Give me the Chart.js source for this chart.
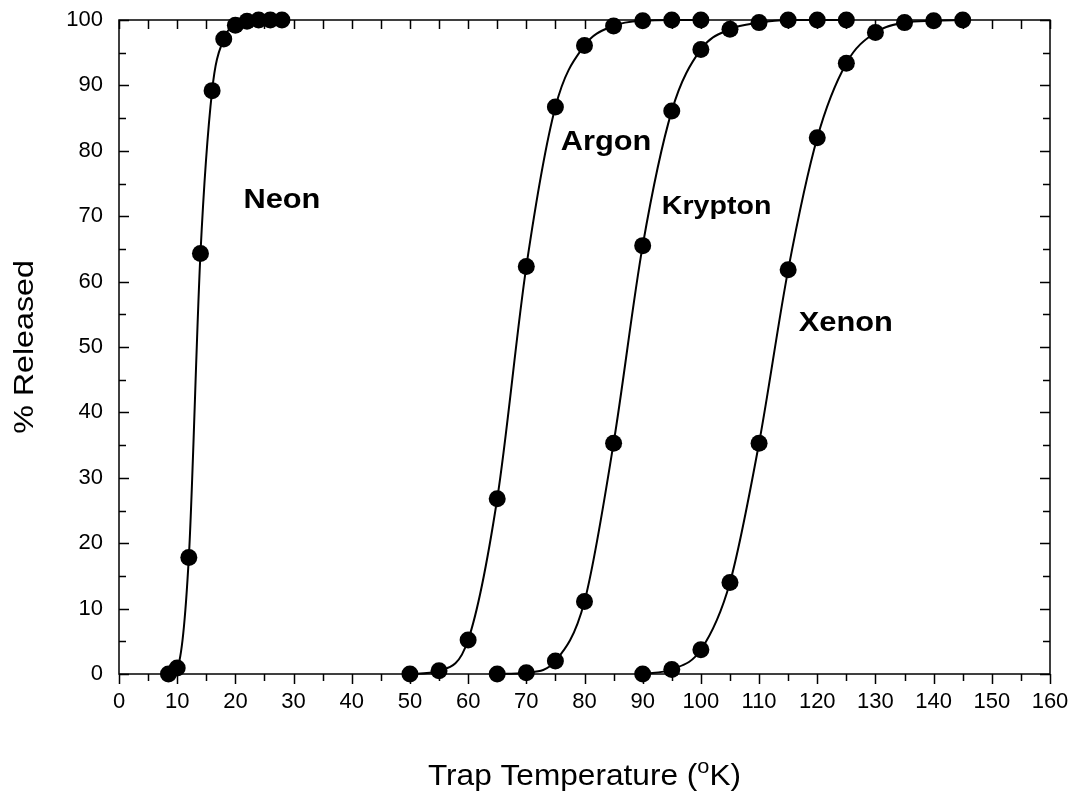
<!DOCTYPE html>
<html>
<head>
<meta charset="utf-8">
<title>Trap Temperature</title>
<script src="https://cdn.jsdelivr.net/npm/chart.js@4/dist/chart.umd.min.js"></script>
<style>
  html, body { margin: 0; padding: 0; background: #fff; }
  #wrap { width: 1081px; height: 794px; }
</style>
</head>
<body>
<div id="wrap"><canvas id="grafico"></canvas></div>
<script>
// % released versus trap temperature for each gas
const neonTemp = [8.5, 10, 12, 14, 16, 18, 20, 22, 24, 26, 28];
const neonPct = [0, 0.9, 17.8, 64.3, 89.2, 97.1, 99.2, 99.8, 100, 100, 100];

const argonTemp = [50, 55, 60, 65, 70, 75, 80, 85, 90, 95, 100];
const argonPct = [0, 0.5, 5.2, 26.8, 62.3, 86.7, 96.1, 99.1, 99.9, 100, 100];

const kryptonTemp = [65, 70, 75, 80, 85, 90, 95, 100, 105, 110, 115, 120, 125];
const kryptonPct = [0, 0.2, 2.0, 11.1, 35.3, 65.5, 86.1, 95.5, 98.6, 99.6, 100, 100, 100];

const xenonTemp = [90, 95, 100, 105, 110, 115, 120, 125, 130, 135, 140, 145];
const xenonPct = [0, 0.7, 3.7, 14.0, 35.3, 61.8, 82.0, 93.4, 98.1, 99.6, 99.9, 100];

const gasNames = ['Neon', 'Argon', 'Krypton', 'Xenon'];

const FONT = '"Liberation Sans", Arial, Helvetica, sans-serif';

function serie(temps, pcts) {
    return temps.map((t, i) => ({ x: t, y: pcts[i] }));
}

function dataset(label, temps, pcts) {
    return {
        label: label,
        data: serie(temps, pcts),
        borderColor: '#000',
        backgroundColor: '#000',
        borderWidth: 2,
        cubicInterpolationMode: 'monotone',
        pointRadius: 8.5,
        pointHoverRadius: 8.5,
        pointBorderWidth: 0,
        pointBackgroundColor: '#000',
        clip: false
    };
}

// text drawn a little wider than the font's natural width
function textoLargo(ctx, txt, x, y, stretch) {
    ctx.save();
    ctx.translate(x, y);
    ctx.scale(stretch, 1);
    ctx.fillText(txt, 0, 0);
    ctx.restore();
}

// frame, tick marks, axis titles and gas names
const moldura = {
    id: 'moldura',
    afterDraw(chart) {
        const ctx = chart.ctx;
        const a = chart.chartArea;
        const xs = chart.scales.x;
        const ys = chart.scales.y;
        ctx.save();
        ctx.strokeStyle = '#000';
        ctx.lineWidth = 1.5;
        ctx.strokeRect(a.left, a.top, a.right - a.left, a.bottom - a.top);

        ctx.beginPath();
        for (let v = 0; v <= 160; v += 5) {
            const px = Math.round(xs.getPixelForValue(v)) + 0.5;
            const len = v % 10 === 0 ? 10 : 7;
            ctx.moveTo(px, a.bottom); ctx.lineTo(px, a.bottom + len);
            ctx.moveTo(px, a.top); ctx.lineTo(px, a.top + 9);
        }
        for (let v = 0; v <= 100; v += 5) {
            const py = Math.round(ys.getPixelForValue(v)) + 0.5;
            const len = v % 10 === 0 ? 10 : 7;
            ctx.moveTo(a.left, py); ctx.lineTo(a.left + len, py);
            ctx.moveTo(a.right, py); ctx.lineTo(a.right - len, py);
        }
        ctx.stroke();

        ctx.fillStyle = '#000';
        // y title
        ctx.save();
        ctx.translate(25, (a.top + a.bottom) / 2);
        ctx.rotate(-Math.PI / 2);
        ctx.font = '28px ' + FONT;
        ctx.textAlign = 'center';
        ctx.textBaseline = 'middle';
        textoLargo(ctx, '% Released', 0, 0, 1.15);
        ctx.restore();

        // x title with superscript o
        const st = 1.09;
        const partA = 'Trap Temperature (';
        const partB = 'o';
        const partC = 'K)';
        ctx.textBaseline = 'alphabetic';
        ctx.textAlign = 'left';
        ctx.font = '29px ' + FONT;
        const wA = ctx.measureText(partA).width * st;
        const wC = ctx.measureText(partC).width * st;
        ctx.font = '20px ' + FONT;
        const wB = ctx.measureText(partB).width * st;
        const total = wA + wB + wC;
        const x0 = (a.left + a.right) / 2 - total / 2;
        const base = 785;
        ctx.font = '29px ' + FONT;
        textoLargo(ctx, partA, x0, base, st);
        ctx.font = '20px ' + FONT;
        textoLargo(ctx, partB, x0 + wA, base - 12, st);
        ctx.font = '29px ' + FONT;
        textoLargo(ctx, partC, x0 + wA + wB, base, st);

        // gas names, anchored in data units
        const nomes = [
            { t: gasNames[0], x: 28.0, y: 72.5, size: 28 },
            { t: gasNames[1], x: 83.7, y: 81.3, size: 28 },
            { t: gasNames[2], x: 102.7, y: 71.4, size: 26 },
            { t: gasNames[3], x: 124.9, y: 53.7, size: 28 }
        ];
        ctx.textAlign = 'center';
        ctx.textBaseline = 'middle';
        nomes.forEach(n => {
            ctx.font = 'bold ' + n.size + 'px ' + FONT;
            textoLargo(ctx, n.t, xs.getPixelForValue(n.x), ys.getPixelForValue(n.y), 1.1);
        });
        ctx.restore();
    }
};

const ctx = document.getElementById('grafico').getContext('2d');

new Chart(ctx, {
    type: 'line',
    data: {
        datasets: [
            dataset(gasNames[0], neonTemp, neonPct),
            dataset(gasNames[1], argonTemp, argonPct),
            dataset(gasNames[2], kryptonTemp, kryptonPct),
            dataset(gasNames[3], xenonTemp, xenonPct)
        ]
    },
    options: {
        responsive: true,
        maintainAspectRatio: false,
        animation: false,
        layout: { padding: { top: 20, right: 31, left: 0, bottom: 0 } },
        plugins: {
            legend: { display: false },
            tooltip: { enabled: false }
        },
        scales: {
            x: {
                type: 'linear',
                min: 0,
                max: 160,
                afterFit(scale) {
                    scale.height = 120;
                    scale.paddingLeft = 0;
                    scale.paddingRight = 0;
                },
                grid: { display: false, drawTicks: false },
                border: { display: false },
                ticks: {
                    stepSize: 10,
                    padding: 15,
                    color: '#000',
                    maxRotation: 0,
                    autoSkip: false,
                    font: { family: FONT, size: 22 }
                }
            },
            y: {
                type: 'linear',
                min: 0,
                max: 100,
                afterFit(scale) {
                    scale.width = 119;
                    scale.paddingTop = 0;
                    scale.paddingBottom = 0;
                },
                grid: { display: false, drawTicks: false },
                border: { display: false },
                ticks: {
                    stepSize: 10,
                    padding: 16,
                    color: '#000',
                    font: { family: FONT, size: 22 }
                }
            }
        }
    },
    plugins: [moldura]
});
</script>
</body>
</html>
